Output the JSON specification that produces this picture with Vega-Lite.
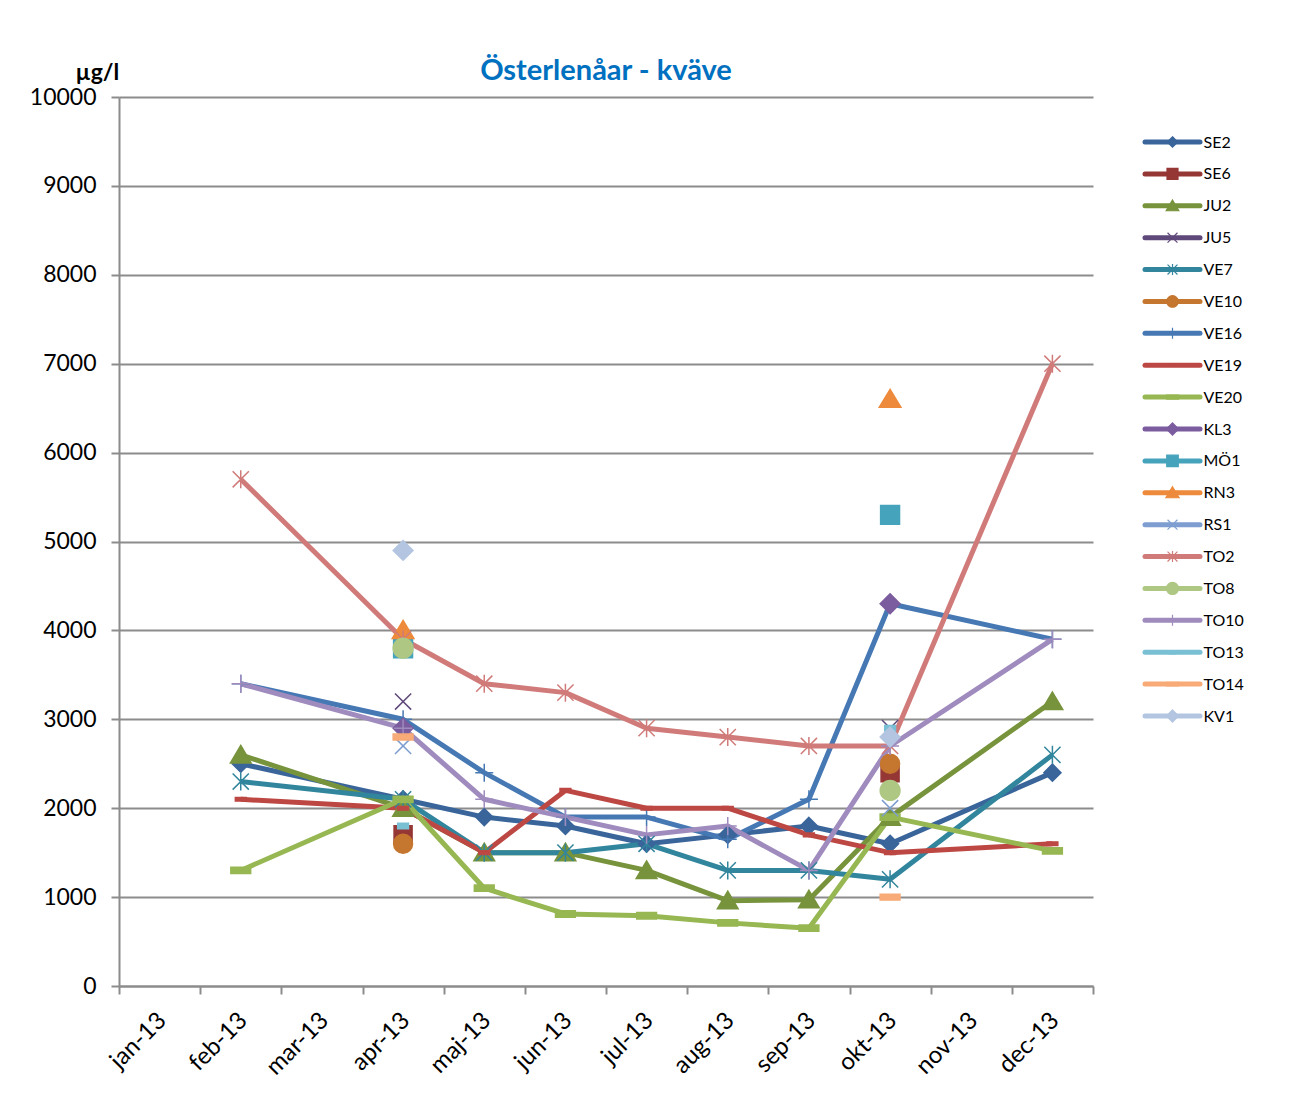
{
  "$schema": "https://vega.github.io/schema/vega-lite/v6.json",
  "autosize": {"type": "pad"},
  "padding": {"left": 29, "top": 57, "right": 5, "bottom": 5},
  "background": "white",
  "config": {"view": {"stroke": null}, "font": "Lato", "concat": {"spacing": 48}},
  "datasets": {
    "obs": [
      {"m": "feb-13", "s": "SE2", "v": 2500}, {"m": "apr-13", "s": "SE2", "v": 2100}, {"m": "maj-13", "s": "SE2", "v": 1900}, {"m": "jun-13", "s": "SE2", "v": 1800}, {"m": "jul-13", "s": "SE2", "v": 1600}, {"m": "aug-13", "s": "SE2", "v": 1700}, {"m": "sep-13", "s": "SE2", "v": 1800}, {"m": "okt-13", "s": "SE2", "v": 1600}, {"m": "dec-13", "s": "SE2", "v": 2400},
      {"m": "apr-13", "s": "SE6", "v": 1700}, {"m": "okt-13", "s": "SE6", "v": 2400},
      {"m": "feb-13", "s": "JU2", "v": 2600}, {"m": "apr-13", "s": "JU2", "v": 2000}, {"m": "maj-13", "s": "JU2", "v": 1500}, {"m": "jun-13", "s": "JU2", "v": 1500}, {"m": "jul-13", "s": "JU2", "v": 1300}, {"m": "aug-13", "s": "JU2", "v": 960}, {"m": "sep-13", "s": "JU2", "v": 970}, {"m": "okt-13", "s": "JU2", "v": 1900}, {"m": "dec-13", "s": "JU2", "v": 3200},
      {"m": "apr-13", "s": "JU5", "v": 3200}, {"m": "okt-13", "s": "JU5", "v": 2900},
      {"m": "feb-13", "s": "VE7", "v": 2300}, {"m": "apr-13", "s": "VE7", "v": 2100}, {"m": "maj-13", "s": "VE7", "v": 1500}, {"m": "jun-13", "s": "VE7", "v": 1500}, {"m": "jul-13", "s": "VE7", "v": 1600}, {"m": "aug-13", "s": "VE7", "v": 1300}, {"m": "sep-13", "s": "VE7", "v": 1300}, {"m": "okt-13", "s": "VE7", "v": 1200}, {"m": "dec-13", "s": "VE7", "v": 2600},
      {"m": "apr-13", "s": "VE10", "v": 1600}, {"m": "okt-13", "s": "VE10", "v": 2500},
      {"m": "feb-13", "s": "VE16", "v": 3400}, {"m": "apr-13", "s": "VE16", "v": 3000}, {"m": "maj-13", "s": "VE16", "v": 2400}, {"m": "jun-13", "s": "VE16", "v": 1900}, {"m": "jul-13", "s": "VE16", "v": 1900}, {"m": "aug-13", "s": "VE16", "v": 1650}, {"m": "sep-13", "s": "VE16", "v": 2100}, {"m": "okt-13", "s": "VE16", "v": 4300}, {"m": "dec-13", "s": "VE16", "v": 3900},
      {"m": "feb-13", "s": "VE19", "v": 2100}, {"m": "apr-13", "s": "VE19", "v": 2000}, {"m": "maj-13", "s": "VE19", "v": 1500}, {"m": "jun-13", "s": "VE19", "v": 2200}, {"m": "jul-13", "s": "VE19", "v": 2000}, {"m": "aug-13", "s": "VE19", "v": 2000}, {"m": "sep-13", "s": "VE19", "v": 1700}, {"m": "okt-13", "s": "VE19", "v": 1500}, {"m": "dec-13", "s": "VE19", "v": 1600},
      {"m": "feb-13", "s": "VE20", "v": 1300}, {"m": "apr-13", "s": "VE20", "v": 2100}, {"m": "maj-13", "s": "VE20", "v": 1100}, {"m": "jun-13", "s": "VE20", "v": 810}, {"m": "jul-13", "s": "VE20", "v": 790}, {"m": "aug-13", "s": "VE20", "v": 710}, {"m": "sep-13", "s": "VE20", "v": 650}, {"m": "okt-13", "s": "VE20", "v": 1900}, {"m": "dec-13", "s": "VE20", "v": 1520},
      {"m": "apr-13", "s": "KL3", "v": 2900}, {"m": "okt-13", "s": "KL3", "v": 4300},
      {"m": "apr-13", "s": "MÖ1", "v": 3800}, {"m": "okt-13", "s": "MÖ1", "v": 5300},
      {"m": "apr-13", "s": "RN3", "v": 4000}, {"m": "okt-13", "s": "RN3", "v": 6600},
      {"m": "apr-13", "s": "RS1", "v": 2700}, {"m": "okt-13", "s": "RS1", "v": 2000},
      {"m": "feb-13", "s": "TO2", "v": 5700}, {"m": "apr-13", "s": "TO2", "v": 3900}, {"m": "maj-13", "s": "TO2", "v": 3400}, {"m": "jun-13", "s": "TO2", "v": 3300}, {"m": "jul-13", "s": "TO2", "v": 2900}, {"m": "aug-13", "s": "TO2", "v": 2800}, {"m": "sep-13", "s": "TO2", "v": 2700}, {"m": "okt-13", "s": "TO2", "v": 2700}, {"m": "dec-13", "s": "TO2", "v": 7000},
      {"m": "apr-13", "s": "TO8", "v": 3800}, {"m": "okt-13", "s": "TO8", "v": 2200},
      {"m": "feb-13", "s": "TO10", "v": 3400}, {"m": "apr-13", "s": "TO10", "v": 2900}, {"m": "maj-13", "s": "TO10", "v": 2100}, {"m": "jun-13", "s": "TO10", "v": 1900}, {"m": "jul-13", "s": "TO10", "v": 1700}, {"m": "aug-13", "s": "TO10", "v": 1800}, {"m": "sep-13", "s": "TO10", "v": 1300}, {"m": "okt-13", "s": "TO10", "v": 2700}, {"m": "dec-13", "s": "TO10", "v": 3900},
      {"m": "apr-13", "s": "TO13", "v": 1800}, {"m": "okt-13", "s": "TO13", "v": 2900},
      {"m": "apr-13", "s": "TO14", "v": 2800}, {"m": "okt-13", "s": "TO14", "v": 1000},
      {"m": "apr-13", "s": "KV1", "v": 4900}, {"m": "okt-13", "s": "KV1", "v": 2800}
    ],
    "series": [
      {"s": "SE2"}, {"s": "SE6"}, {"s": "JU2"}, {"s": "JU5"}, {"s": "VE7"}, {"s": "VE10"}, {"s": "VE16"}, {"s": "VE19"}, {"s": "VE20"}, {"s": "KL3"},
      {"s": "MÖ1"}, {"s": "RN3"}, {"s": "RS1"}, {"s": "TO2"}, {"s": "TO8"}, {"s": "TO10"}, {"s": "TO13"}, {"s": "TO14"}, {"s": "KV1"}
    ]
  },
  "hconcat": [
    {
      "width": 974,
      "height": 889,
      "data": {"name": "obs"},
      "title": {"text": "Österlenåar - kväve", "color": "#0070C0", "font": "Lato", "fontSize": 29, "fontWeight": "bold", "anchor": "middle", "offset": -25},
      "encoding": {
        "x": {"field": "m", "type": "ordinal", "bandPosition": 0.5,
          "scale": {"type": "band", "domain": ["jan-13","feb-13","mar-13","apr-13","maj-13","jun-13","jul-13","aug-13","sep-13","okt-13","nov-13","dec-13"], "paddingInner": 0, "paddingOuter": 0},
          "axis": {"title": null, "tickBand": "extent", "labelAngle": -45, "labelFont": "Lato", "labelFontSize": 24, "labelColor": "#000", "labelPadding": 14, "labelOffset": -6, "domainColor": "#8c8c8c", "domainWidth": 2, "tickColor": "#8c8c8c", "tickWidth": 2, "tickSize": 8, "grid": false}},
        "y": {"field": "v", "type": "quantitative",
          "scale": {"domain": [0, 10000], "nice": false},
          "axis": {"values": [0,1000,2000,3000,4000,5000,6000,7000,8000,9000,10000], "format": "d", "grid": true, "gridColor": "#8c8c8c", "gridWidth": 2, "domainColor": "#8c8c8c", "domainWidth": 2, "tickColor": "#8c8c8c", "tickWidth": 2, "tickSize": 8, "labelFont": "Lato", "labelFontSize": 23, "labelColor": "#000", "labelPadding": 15,
            "title": "µg/l", "titleAngle": 0, "titleAlign": "left", "titleBaseline": "alphabetic", "titleX": -44, "titleY": -18, "titleFont": "Lato", "titleFontSize": 23, "titleFontWeight": "bold", "titleColor": "#000"}},
        "color": {"field": "s", "type": "nominal", "legend": null,
          "scale": {"domain": ["SE2","SE6","JU2","JU5","VE7","VE10","VE16","VE19","VE20","KL3","MÖ1","RN3","RS1","TO2","TO8","TO10","TO13","TO14","KV1"],
            "range": ["#3A659B","#953735","#77933C","#5F497A","#31859C","#C5762F","#4678B4","#BC4743","#96B752","#7B5C9E","#46A3BC","#ED8A3C","#7E9DD0","#D07B79","#AEC783","#9F8BBD","#7AC0D5","#F8AA77","#B3C5E0"]}}
      },
      "layer": [
        {
          "transform": [{"filter": {"field": "s", "oneOf": ["SE2","JU2","VE7","VE16","VE19","VE20","TO2","TO10"]}}],
          "mark": {"type": "line", "strokeWidth": 5, "strokeJoin": "round", "strokeCap": "butt"}
        },
        {
          "mark": {"type": "point", "filled": true, "size": 324, "strokeWidth": 1.5, "opacity": 1},
          "encoding": {
            "shape": {"field": "s", "type": "nominal", "legend": null,
              "scale": {"domain": ["SE2","SE6","JU2","JU5","VE7","VE10","VE16","VE19","VE20","KL3","MÖ1","RN3","RS1","TO2","TO8","TO10","TO13","TO14","KV1"],
                "range": ["M0,-0.95L0.95,0L0,0.95L-0.95,0Z","M-1,-1H1V1H-1Z","M0,-1.05L1.15,0.9H-1.15Z","M-0.9,-0.9L0.9,0.9M-0.9,0.9L0.9,-0.9","M-0.9,-0.9L0.9,0.9M-0.9,0.9L0.9,-0.9M0,-1V1","M1.05,0A1.05,1.05,0,1,1,-1.05,0A1.05,1.05,0,1,1,1.05,0Z","M-1,0H1M0,-1V1","M-0.6,-0.2H0.6V0.2H-0.6Z","M-1.1,-0.35H1.1V0.35H-1.1Z","M0,-1.1L1.1,0L0,1.1L-1.1,0Z","M-1.05,-1.05H1.05V1.05H-1.05Z","M0,-1.1L1.2,0.9H-1.2Z","M-0.9,-0.9L0.9,0.9M-0.9,0.9L0.9,-0.9","M-0.9,-0.9L0.9,0.9M-0.9,0.9L0.9,-0.9M0,-1V1","M1.1,0A1.1,1.1,0,1,1,-1.1,0A1.1,1.1,0,1,1,1.1,0Z","M-1,0H1M0,-1V1","M-0.6,-0.3H0.6V0.3H-0.6Z","M-1.1,-0.33H1.1V0.33H-1.1Z","M0,-1.1L1.1,0L0,1.1L-1.1,0Z"]}},
            "stroke": {"field": "s", "type": "nominal", "legend": null,
              "scale": {"domain": ["SE2","SE6","JU2","JU5","VE7","VE10","VE16","VE19","VE20","KL3","MÖ1","RN3","RS1","TO2","TO8","TO10","TO13","TO14","KV1"],
                "range": ["#3A659B","#953735","#77933C","#5F497A","#31859C","#C5762F","#4678B4","#BC4743","#96B752","#7B5C9E","#46A3BC","#ED8A3C","#7E9DD0","#D07B79","#AEC783","#9F8BBD","#7AC0D5","#F8AA77","#B3C5E0"]}}
          }
        }
      ]
    },
    {
      "width": 55,
      "height": 664,
      "data": {"name": "series"},
      "encoding": {
        "y": {"field": "s", "type": "nominal",
          "scale": {"type": "point", "domain": ["SE2","SE6","JU2","JU5","VE7","VE10","VE16","VE19","VE20","KL3","MÖ1","RN3","RS1","TO2","TO8","TO10","TO13","TO14","KV1"], "range": [45, 619], "padding": 0},
          "axis": {"orient": "right", "title": null, "domain": false, "ticks": false, "grid": false, "labelPadding": 3, "labelFont": "Lato", "labelFontSize": 16, "labelColor": "#000"}},
        "color": {"field": "s", "type": "nominal", "legend": null,
          "scale": {"domain": ["SE2","SE6","JU2","JU5","VE7","VE10","VE16","VE19","VE20","KL3","MÖ1","RN3","RS1","TO2","TO8","TO10","TO13","TO14","KV1"],
            "range": ["#3A659B","#953735","#77933C","#5F497A","#31859C","#C5762F","#4678B4","#BC4743","#96B752","#7B5C9E","#46A3BC","#ED8A3C","#7E9DD0","#D07B79","#AEC783","#9F8BBD","#7AC0D5","#F8AA77","#B3C5E0"]}}
      },
      "layer": [
        {
          "mark": {"type": "rule", "strokeWidth": 5, "strokeCap": "round"},
          "encoding": {
            "x": {"datum": 0, "type": "quantitative", "scale": {"domain": [0, 2]}, "axis": null},
            "x2": {"datum": 2}
          }
        },
        {
          "mark": {"type": "point", "filled": true, "size": 121, "strokeWidth": 1.2, "opacity": 1},
          "encoding": {
            "x": {"datum": 1, "type": "quantitative", "scale": {"domain": [0, 2]}, "axis": null},
            "shape": {"field": "s", "type": "nominal", "legend": null,
              "scale": {"domain": ["SE2","SE6","JU2","JU5","VE7","VE10","VE16","VE19","VE20","KL3","MÖ1","RN3","RS1","TO2","TO8","TO10","TO13","TO14","KV1"],
                "range": ["M0,-0.95L0.95,0L0,0.95L-0.95,0Z","M-1,-1H1V1H-1Z","M0,-1.05L1.15,0.9H-1.15Z","M-0.9,-0.9L0.9,0.9M-0.9,0.9L0.9,-0.9","M-0.9,-0.9L0.9,0.9M-0.9,0.9L0.9,-0.9M0,-1V1","M1.05,0A1.05,1.05,0,1,1,-1.05,0A1.05,1.05,0,1,1,1.05,0Z","M-1,0H1M0,-1V1","M-0.6,-0.2H0.6V0.2H-0.6Z","M-1.1,-0.35H1.1V0.35H-1.1Z","M0,-1.1L1.1,0L0,1.1L-1.1,0Z","M-1.05,-1.05H1.05V1.05H-1.05Z","M0,-1.1L1.2,0.9H-1.2Z","M-0.9,-0.9L0.9,0.9M-0.9,0.9L0.9,-0.9","M-0.9,-0.9L0.9,0.9M-0.9,0.9L0.9,-0.9M0,-1V1","M1.1,0A1.1,1.1,0,1,1,-1.1,0A1.1,1.1,0,1,1,1.1,0Z","M-1,0H1M0,-1V1","M-0.6,-0.3H0.6V0.3H-0.6Z","M-1.1,-0.33H1.1V0.33H-1.1Z","M0,-1.1L1.1,0L0,1.1L-1.1,0Z"]}},
            "stroke": {"field": "s", "type": "nominal", "legend": null,
              "scale": {"domain": ["SE2","SE6","JU2","JU5","VE7","VE10","VE16","VE19","VE20","KL3","MÖ1","RN3","RS1","TO2","TO8","TO10","TO13","TO14","KV1"],
                "range": ["#3A659B","#953735","#77933C","#5F497A","#31859C","#C5762F","#4678B4","#BC4743","#96B752","#7B5C9E","#46A3BC","#ED8A3C","#7E9DD0","#D07B79","#AEC783","#9F8BBD","#7AC0D5","#F8AA77","#B3C5E0"]}}
          }
        }
      ]
    }
  ]
}
